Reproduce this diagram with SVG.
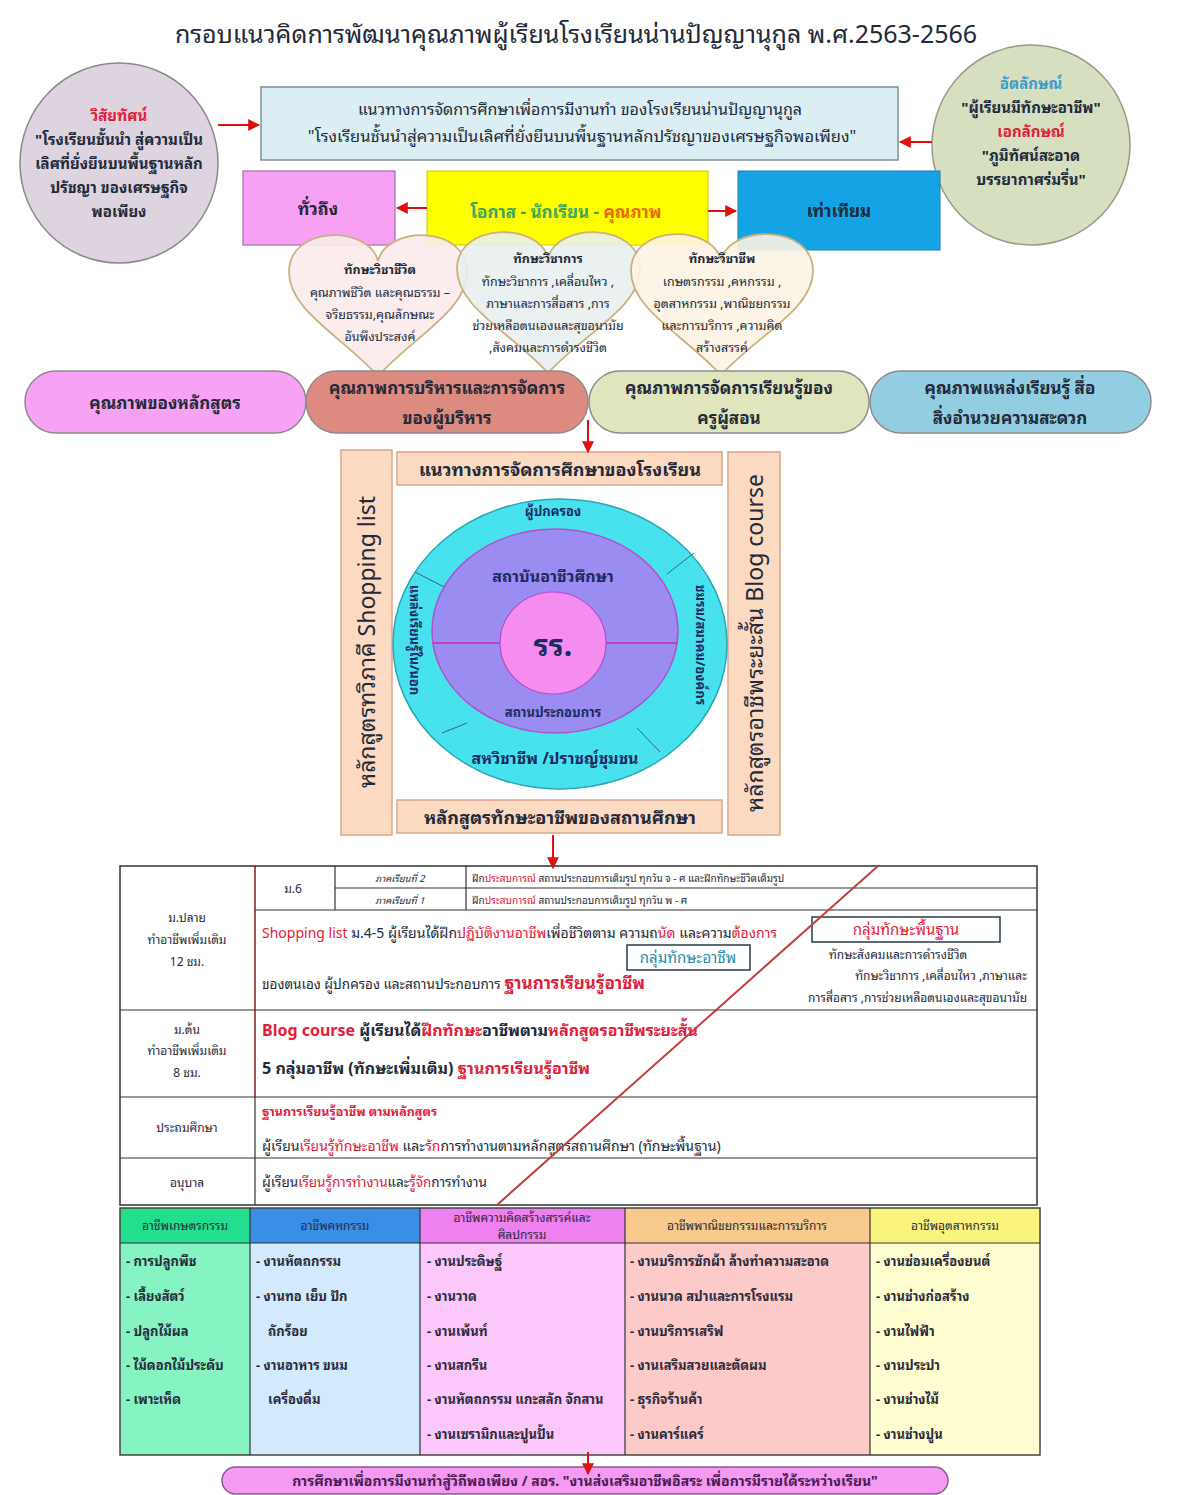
<svg xmlns="http://www.w3.org/2000/svg" width="1179" height="1495" viewBox="0 0 1179 1495">
<defs>
<marker id="ahb" viewBox="0 0 10 10" refX="9" refY="5" markerWidth="14" markerHeight="12" orient="auto" markerUnits="userSpaceOnUse"><path d="M0,0 L10,5 L0,10 z" fill="#e01010"/></marker>
</defs>
<style>
text { font-family: "Noto Sans Thai Looped", "Noto Serif Thai", "Noto Sans Thai", "Noto Sans", "DejaVu Sans", sans-serif; fill: #222a3a; }
.c { text-anchor: middle; }
.b { font-weight: bold; }
.r { fill: #e0203a; }
.conn line { stroke: #e01010; stroke-width: 2; fill: none; }
.bx { stroke: #7f8f99; stroke-width: 1.5; }
.pill { stroke: #8c8c8c; stroke-width: 1.5; }
.heart { stroke: #c9b27e; stroke-width: 1.8; }
.peach { fill: #fcd9c1; stroke: #d8a88c; stroke-width: 1.5; }
.tb { fill: none; stroke: #333; stroke-width: 1.2; }
.it { font-size: 13px; font-weight: bold; fill: #2a2a3a; }
.hd { font-size: 12px; fill: #2a2a3a; text-anchor: middle; }
.nv { fill: #1c2a60; font-weight: bold; }
.ht { font-size: 12.5px; }
</style>
<rect width="1179" height="1495" fill="#ffffff"/>

<text id="title" class="c" x="576" y="43" font-size="25">กรอบแนวคิดการพัฒนาคุณภาพผู้เรียนโรงเรียนน่านปัญญานุกูล พ.ศ.2563-2566</text>

<g id="vision">
<ellipse cx="119" cy="163" rx="99" ry="100" fill="#ddd4e0" stroke="#8a8a8a" stroke-width="1.5"/>
<text class="c b r" x="119" y="121" font-size="15">วิสัยทัศน์</text>
<text class="c b" x="119" y="145" font-size="15">"โรงเรียนชั้นนำ สู่ความเป็น</text>
<text class="c b" x="119" y="169" font-size="15">เลิศที่ยั่งยืนบนพื้นฐานหลัก</text>
<text class="c b" x="119" y="193" font-size="15">ปรัชญา ของเศรษฐกิจ</text>
<text class="c b" x="119" y="217" font-size="15">พอเพียง</text>
</g>

<g id="guideline">
<rect class="bx" x="261" y="87" width="637" height="73" fill="#dbeef4"/>
<text class="c" x="580" y="115" font-size="16">แนวทางการจัดการศึกษาเพื่อการมีงานทำ ของโรงเรียนน่านปัญญานุกูล</text>
<text class="c" x="582" y="142" font-size="16.5">"โรงเรียนชั้นนำสู่ความเป็นเลิศที่ยั่งยืนบนพื้นฐานหลักปรัชญาของเศรษฐกิจพอเพียง"</text>
</g>

<g id="identity">
<ellipse cx="1031" cy="145" rx="99" ry="100" fill="#d7dfc1" stroke="#9a9a8a" stroke-width="1.5"/>
<text class="c b" x="1031" y="89" font-size="15" style="fill:#3a9cc8">อัตลักษณ์</text>
<text class="c b" x="1031" y="113" font-size="15">"ผู้เรียนมีทักษะอาชีพ"</text>
<text class="c b r" x="1031" y="137" font-size="15">เอกลักษณ์</text>
<text class="c b" x="1031" y="161" font-size="15">"ภูมิทัศน์สะอาด</text>
<text class="c b" x="1031" y="185" font-size="15">บรรยากาศร่มรื่น"</text>
</g>

<g id="thorough">
<rect x="243" y="171" width="152" height="74" fill="#f7a0f4" stroke="#a070a0" stroke-width="1.2"/>
<text class="c b" x="318" y="215" font-size="17">ทั่วถึง</text>
</g>
<g id="opportunity">
<rect x="427" y="171" width="281" height="74" fill="#ffff00" stroke="#c8c800" stroke-width="1"/>
<text class="c b" x="566" y="218" font-size="17"><tspan style="fill:#3aa860">โอกาส - นักเรียน - </tspan><tspan style="fill:#e86a10">คุณภาพ</tspan></text>
</g>
<g id="equal">
<rect x="738" y="171" width="202" height="79" fill="#14a4e6" stroke="#1a80b0" stroke-width="1"/>
<text class="c b" x="839" y="217" font-size="17">เท่าเทียม</text>
</g>

<g id="heart-life">
<path class="heart" fill="#fbeceb" fill-opacity="0.92" d="M378,261 C369,225 289,225 289,272 C289,310 340,335 378,376 C416,335 467,310 467,272 C467,225 387,225 378,261 Z"/>
<text class="c b ht" x="380" y="274">ทักษะวิชาชีวิต</text>
<text class="c ht" x="380" y="297">คุณภาพชีวิต และคุณธรรม –</text>
<text class="c ht" x="380" y="319">จริยธรรม,คุณลักษณะ</text>
<text class="c ht" x="380" y="341">อันพึงประสงค์</text>
</g>
<g id="heart-academic">
<path class="heart" fill="#e9eeee" fill-opacity="0.9" d="M548,258 C539,222 457,222 457,269 C457,307 510,332 548,373 C586,332 640,307 640,269 C640,222 557,222 548,258 Z"/>
<text class="c b ht" x="548" y="263">ทักษะวิชาการ</text>
<text class="c ht" x="548" y="286">ทักษะวิชาการ ,เคลื่อนไหว ,</text>
<text class="c ht" x="548" y="308">ภาษาและการสื่อสาร ,การ</text>
<text class="c ht" x="548" y="330">ช่วยเหลือตนเองและสุขอนามัย</text>
<text class="c ht" x="548" y="352">,สังคมและการดำรงชีวิต</text>
</g>
<g id="heart-career">
<path class="heart" fill="#fdf3e6" fill-opacity="0.9" d="M721,260 C712,224 631,224 631,271 C631,309 683,334 721,375 C759,334 813,309 813,271 C813,224 730,224 721,260 Z"/>
<text class="c b ht" x="722" y="263">ทักษะวิชาชีพ</text>
<text class="c ht" x="722" y="286">เกษตรกรรม ,คหกรรม ,</text>
<text class="c ht" x="722" y="308">อุตสาหกรรม ,พาณิชยกรรม</text>
<text class="c ht" x="722" y="330">และการบริการ ,ความคิด</text>
<text class="c ht" x="722" y="352">สร้างสรรค์</text>
</g>

<g id="q-curriculum">
<rect class="pill" x="25" y="371" width="281" height="62" rx="31" fill="#f7a2f4"/>
<text class="c b" x="165" y="409" font-size="17">คุณภาพของหลักสูตร</text>
</g>
<g id="q-admin">
<rect class="pill" x="306" y="371" width="282" height="62" rx="31" fill="#dd8b80"/>
<text class="c b" x="447" y="394" font-size="17">คุณภาพการบริหารและการจัดการ</text>
<text class="c b" x="447" y="424" font-size="17">ของผู้บริหาร</text>
</g>
<g id="q-teaching">
<rect class="pill" x="589" y="371" width="280" height="62" rx="31" fill="#e0e5be"/>
<text class="c b" x="729" y="394" font-size="17">คุณภาพการจัดการเรียนรู้ของ</text>
<text class="c b" x="729" y="424" font-size="17">ครูผู้สอน</text>
</g>
<g id="q-resources">
<rect class="pill" x="870" y="371" width="281" height="62" rx="31" fill="#92cde1"/>
<text class="c b" x="1010" y="394" font-size="17">คุณภาพแหล่งเรียนรู้ สื่อ</text>
<text class="c b" x="1010" y="424" font-size="17">สิ่งอำนวยความสะดวก</text>
</g>

<g id="school-guideline">
<rect class="peach" x="397" y="452" width="325" height="33"/>
<text class="c b" x="560" y="476" font-size="18">แนวทางการจัดการศึกษาของโรงเรียน</text>
</g>
<g id="dual-curriculum">
<rect class="peach" x="341" y="450" width="51" height="385"/>
<text class="c" font-size="23" transform="translate(375,642) rotate(-90)">หลักสูตรทวิภาคี Shopping list</text>
</g>
<g id="short-curriculum">
<rect class="peach" x="728" y="452" width="52" height="383"/>
<text class="c" font-size="23" transform="translate(763,643) rotate(-90)">หลักสูตรอาชีพระยะสั้น Blog course</text>
</g>
<g id="skill-curriculum">
<rect class="peach" x="397" y="800" width="325" height="33"/>
<text class="c b" x="560" y="824" font-size="18">หลักสูตรทักษะอาชีพของสถานศึกษา</text>
</g>

<g id="network">
<ellipse cx="560" cy="644" rx="167" ry="145" fill="#48e2ee" stroke="#2aa6b4" stroke-width="1.5"/>
<line x1="415" y1="572" x2="448" y2="589" stroke="#2a6a70" stroke-width="1"/>
<line x1="694" y1="553" x2="667" y2="574" stroke="#2a6a70" stroke-width="1"/>
<line x1="442" y1="733" x2="467" y2="723" stroke="#2a6a70" stroke-width="1"/>
<line x1="637" y1="728" x2="660" y2="752" stroke="#2a6a70" stroke-width="1"/>
<ellipse cx="555" cy="631" rx="123" ry="102" fill="#9a8cf0" stroke="#b050c8" stroke-width="1.5"/>
<line x1="432" y1="643" x2="678" y2="643" stroke="#c040c0" stroke-width="2"/>
<ellipse cx="553" cy="643" rx="53" ry="51" fill="#f58cf0" stroke="#b050c8" stroke-width="1.2"/>
<text class="c nv" x="553" y="516" font-size="13">ผู้ปกครอง</text>
<text class="c nv" x="553" y="582" font-size="16">สถาบันอาชีวศึกษา</text>
<text class="c nv" x="553" y="656" font-size="30">รร.</text>
<text class="c nv" x="553" y="717" font-size="13">สถานประกอบการ</text>
<text class="c nv" x="555" y="764" font-size="16">สหวิชาชีพ /ปราชญ์ชุมชน</text>
<text class="c nv" font-size="13" transform="translate(410,640) rotate(90)">แหล่งเรียนรู้ใน/นอก</text>
<text class="c nv" font-size="13" transform="translate(696,645) rotate(90)">ชมรม/สมาคม/องค์กร</text>
</g>

<g id="levels-table">
<rect x="120" y="866" width="917" height="339" fill="#ffffff" stroke="#333" stroke-width="1.5"/>
<line class="tb" x1="120" y1="1010" x2="1037" y2="1010" stroke-width="2.5"/>
<line class="tb" x1="120" y1="1097" x2="1037" y2="1097"/>
<line class="tb" x1="120" y1="1158" x2="1037" y2="1158"/>
<line x1="255" y1="866" x2="255" y2="1097" stroke="#8a1a1a" stroke-width="1.5"/>
<line class="tb" x1="255" y1="1097" x2="255" y2="1205"/>
<line class="tb" x1="255" y1="910" x2="1037" y2="910"/>
<line class="tb" x1="335" y1="888" x2="1037" y2="888"/>
<line class="tb" x1="335" y1="866" x2="335" y2="910"/>
<line class="tb" x1="466" y1="866" x2="466" y2="910" stroke-width="2"/>
<text class="hd" x="187" y="922">ม.ปลาย</text>
<text class="hd" x="187" y="944">ทำอาชีพเพิ่มเติม</text>
<text class="hd" x="187" y="966">12 ชม.</text>
<text class="hd" x="187" y="1034">ม.ต้น</text>
<text class="hd" x="187" y="1055">ทำอาชีพเพิ่มเติม</text>
<text class="hd" x="187" y="1077">8 ชม.</text>
<text class="hd" x="187" y="1132">ประถมศึกษา</text>
<text class="hd" x="187" y="1187">อนุบาล</text>
<text class="hd" x="293" y="893">ม.6</text>
<text class="c" x="400" y="882" font-size="9.5" font-style="italic">ภาคเรียนที่ 2</text>
<text class="c" x="400" y="904" font-size="9.5" font-style="italic">ภาคเรียนที่ 1</text>
<text x="472" y="882" font-size="10">ฝึก<tspan class="r">ประสบการณ์</tspan> สถานประกอบการเต็มรูป ทุกวัน จ - ศ และฝึกทักษะชีวิตเต็มรูป</text>
<text x="472" y="904" font-size="10">ฝึก<tspan class="r">ประสบการณ์</tspan> สถานประกอบการเต็มรูป ทุกวัน พ - ศ</text>
<text x="262" y="938" font-size="14"><tspan class="r">Shopping list</tspan>  ม.4-5  ผู้เรียนได้ฝึก<tspan class="r">ปฏิบัติงานอาชีพ</tspan>เพื่อชีวิตตาม ความถ<tspan class="r">นัด</tspan> และความ<tspan class="r">ต้องการ</tspan></text>
<text x="262" y="989" font-size="13.5">ของตนเอง ผู้ปกครอง และสถานประกอบการ  <tspan class="r b" font-size="17">ฐานการเรียนรู้อาชีพ</tspan></text>
<rect x="627" y="945" width="123" height="25" fill="#ffffff" stroke="#2a3a4a" stroke-width="1.5"/>
<text class="c" x="688" y="963" font-size="15" style="fill:#2a8aa6">กลุ่มทักษะอาชีพ</text>
<rect x="812" y="917" width="188" height="25" fill="#ffffff" stroke="#2a3a4a" stroke-width="1.5"/>
<text class="c r" x="906" y="935" font-size="15">กลุ่มทักษะพื้นฐาน</text>
<text class="c" x="898" y="959" font-size="12">ทักษะสังคมและการดำรงชีวิต</text>
<text x="1027" y="980" font-size="12" text-anchor="end">ทักษะวิชาการ ,เคลื่อนไหว ,ภาษาและ</text>
<text x="1027" y="1002" font-size="12" text-anchor="end">การสื่อสาร ,การช่วยเหลือตนเองและสุขอนามัย</text>
<text x="262" y="1036" font-size="16" class="b"><tspan class="r">Blog course</tspan>  ผู้เรียนได้<tspan class="r">ฝึกทักษะ</tspan>อาชีพตาม<tspan class="r">หลักสูตรอาชีพระยะสั้น</tspan></text>
<text x="262" y="1074" font-size="16" class="b">5 กลุ่มอาชีพ (ทักษะเพิ่มเติม) <tspan class="r">ฐานการเรียนรู้อาชีพ</tspan></text>
<text x="262" y="1116" font-size="12.5" class="r b">ฐานการเรียนรู้อาชีพ ตามหลักสูตร</text>
<text x="262" y="1151" font-size="14">ผู้เรียน<tspan class="r">เรียนรู้ทักษะอาชีพ</tspan> และ<tspan class="r">รัก</tspan>การทำงานตามหลักสูตรสถานศึกษา (ทักษะพื้นฐาน)</text>
<text x="262" y="1187" font-size="13.5">ผู้เรียน<tspan class="r">เรียนรู้การทำงาน</tspan>และ<tspan class="r">รู้จัก</tspan>การทำงาน</text>
</g>

<g id="careers">
<rect x="120" y="1208" width="130" height="35" fill="#22de8e"/>
<rect x="120" y="1243" width="130" height="212" fill="#86f3c3"/>
<rect x="250" y="1208" width="170" height="35" fill="#3a8ee6"/>
<rect x="250" y="1243" width="170" height="212" fill="#d2eafb"/>
<rect x="420" y="1208" width="205" height="35" fill="#ef80f0"/>
<rect x="420" y="1243" width="205" height="212" fill="#fcc7fa"/>
<rect x="625" y="1208" width="245" height="35" fill="#f7c98d"/>
<rect x="625" y="1243" width="245" height="212" fill="#fdcaca"/>
<rect x="870" y="1208" width="170" height="35" fill="#faf47e"/>
<rect x="870" y="1243" width="170" height="212" fill="#fefed0"/>
<rect x="120" y="1208" width="920" height="247" fill="none" stroke="#444" stroke-width="1.5"/>
<line class="tb" x1="120" y1="1243" x2="1040" y2="1243"/>
<line class="tb" x1="250" y1="1208" x2="250" y2="1455"/>
<line class="tb" x1="420" y1="1208" x2="420" y2="1455"/>
<line class="tb" x1="625" y1="1208" x2="625" y2="1455"/>
<line class="tb" x1="870" y1="1208" x2="870" y2="1455"/>
<text class="hd" x="185" y="1230">อาชีพเกษตรกรรม</text>
<text class="hd" x="335" y="1230">อาชีพคหกรรม</text>
<text class="hd" x="522" y="1222">อาชีพความคิดสร้างสรรค์และ</text>
<text class="hd" x="522" y="1239">ศิลปกรรม</text>
<text class="hd" x="747" y="1230">อาชีพพาณิชยกรรมและการบริการ</text>
<text class="hd" x="955" y="1230">อาชีพอุตสาหกรรม</text>
<text class="it" x="126" y="1266">- การปลูกพืช</text>
<text class="it" x="126" y="1301">- เลี้ยงสัตว์</text>
<text class="it" x="126" y="1336">- ปลูกไม้ผล</text>
<text class="it" x="126" y="1370">- ไม้ดอกไม้ประดับ</text>
<text class="it" x="126" y="1404">- เพาะเห็ด</text>
<text class="it" x="256" y="1266">- งานหัตถกรรม</text>
<text class="it" x="256" y="1301">- งานทอ เย็บ ปัก</text>
<text class="it" x="268" y="1336">ถักร้อย</text>
<text class="it" x="256" y="1370">- งานอาหาร ขนม</text>
<text class="it" x="268" y="1404">เครื่องดื่ม</text>
<text class="it" x="427" y="1266">- งานประดิษฐ์</text>
<text class="it" x="427" y="1301">- งานวาด</text>
<text class="it" x="427" y="1336">- งานเพ้นท์</text>
<text class="it" x="427" y="1370">- งานสกรีน</text>
<text class="it" x="427" y="1404">- งานหัตถกรรม แกะสลัก จักสาน</text>
<text class="it" x="427" y="1439">- งานเซรามิกและปูนปั้น</text>
<text class="it" x="630" y="1266">- งานบริการซักผ้า ล้างทำความสะอาด</text>
<text class="it" x="630" y="1301">- งานนวด สปาและการโรงแรม</text>
<text class="it" x="630" y="1336">- งานบริการเสริฟ</text>
<text class="it" x="630" y="1370">- งานเสริมสวยและตัดผม</text>
<text class="it" x="630" y="1404">- ธุรกิจร้านค้า</text>
<text class="it" x="630" y="1439">- งานคาร์แคร์</text>
<text class="it" x="876" y="1266">- งานซ่อมเครื่องยนต์</text>
<text class="it" x="876" y="1301">- งานช่างก่อสร้าง</text>
<text class="it" x="876" y="1336">- งานไฟฟ้า</text>
<text class="it" x="876" y="1370">- งานประปา</text>
<text class="it" x="876" y="1404">- งานช่างไม้</text>
<text class="it" x="876" y="1439">- งานช่างปูน</text>
</g>

<g id="banner">
<rect x="222" y="1467" width="726" height="27" rx="13.5" fill="#f59af2" stroke="#8a5a8a" stroke-width="1.5"/>
<text class="c b" x="585" y="1486" font-size="14" style="fill:#4a1a50">การศึกษาเพื่อการมีงานทำสู่วิถีพอเพียง / สอร. "งานส่งเสริมอาชีพอิสระ เพื่อการมีรายได้ระหว่างเรียน"</text>
</g>

<g class="conn" id="connectors">
<line x1="218" y1="125" x2="259" y2="125" marker-end="url(#ahb)"/>
<line x1="932" y1="142" x2="900" y2="142" marker-end="url(#ahb)"/>
<line x1="427" y1="208" x2="397" y2="208" marker-end="url(#ahb)"/>
<line x1="708" y1="211" x2="736" y2="211" marker-end="url(#ahb)"/>
<line x1="588" y1="420" x2="588" y2="452" marker-end="url(#ahb)"/>
<line x1="553" y1="835" x2="553" y2="868" marker-end="url(#ahb)"/>
<line x1="878" y1="866" x2="497" y2="1205" stroke-width="1.2" style="stroke:#c04040"/>
<line x1="588" y1="1452" x2="588" y2="1474" marker-end="url(#ahb)"/>
</g>
</svg>
